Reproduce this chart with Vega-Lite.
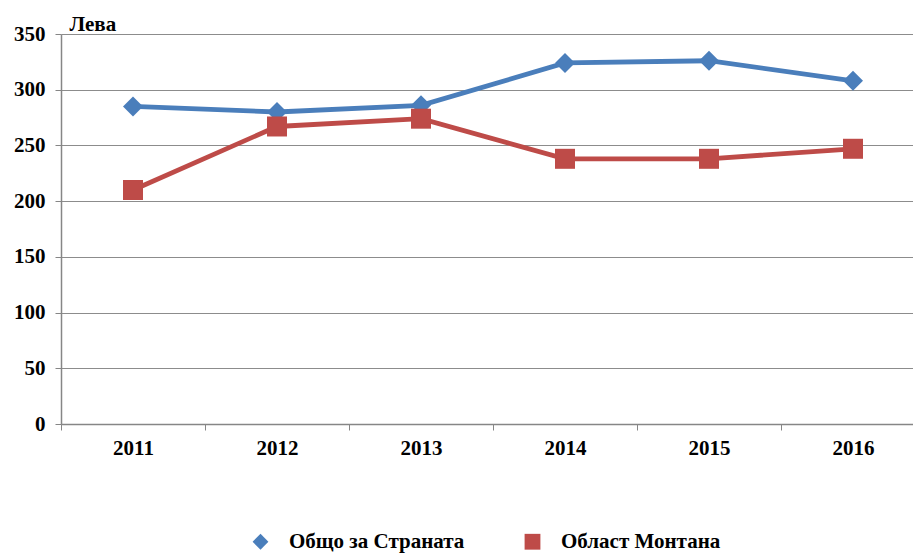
{
  "$schema": "https://vega.github.io/schema/vega-lite/v6.json",
  "width": 852,
  "height": 390,
  "autosize": {"type": "none"},
  "padding": {"left": 61, "top": 34, "right": 0, "bottom": 130},
  "background": "white",
  "config": {"view": {"stroke": null}, "font": "Liberation Serif"},
  "data": {
    "values": [
      {"year": "2011", "series": "Общо за Страната", "value": 285},
      {"year": "2012", "series": "Общо за Страната", "value": 280},
      {"year": "2013", "series": "Общо за Страната", "value": 286},
      {"year": "2014", "series": "Общо за Страната", "value": 324},
      {"year": "2015", "series": "Общо за Страната", "value": 326},
      {"year": "2016", "series": "Общо за Страната", "value": 308},
      {"year": "2011", "series": "Област Монтана", "value": 210},
      {"year": "2012", "series": "Област Монтана", "value": 267},
      {"year": "2013", "series": "Област Монтана", "value": 274},
      {"year": "2014", "series": "Област Монтана", "value": 238},
      {"year": "2015", "series": "Област Монтана", "value": 238},
      {"year": "2016", "series": "Област Монтана", "value": 247}
    ]
  },
  "encoding": {
    "x": {
      "field": "year",
      "type": "ordinal",
      "bandPosition": 0.5,
      "scale": {"type": "band", "range": [0, 864], "paddingInner": 0, "paddingOuter": 0},
      "axis": {
        "title": null,
        "labelAngle": 0,
        "tickBand": "extent",
        "grid": false,
        "domainColor": "#868686",
        "domainWidth": 1.5,
        "tickColor": "#868686",
        "tickSize": 6,
        "labelFont": "Liberation Serif",
        "labelFontSize": 21,
        "labelFontWeight": "bold",
        "labelColor": "black",
        "labelPadding": 7
      }
    },
    "y": {
      "field": "value",
      "type": "quantitative",
      "scale": {"domain": [0, 350], "nice": false},
      "axis": {
        "values": [0, 50, 100, 150, 200, 250, 300, 350],
        "grid": true,
        "gridColor": "#8c8c8c",
        "gridWidth": 1,
        "domainColor": "#868686",
        "domainWidth": 1.5,
        "tickColor": "#868686",
        "tickSize": 6,
        "labelFont": "Liberation Serif",
        "labelFontSize": 21,
        "labelFontWeight": "bold",
        "labelColor": "black",
        "labelPadding": 10,
        "title": "Лева",
        "titleAngle": 0,
        "titleAlign": "left",
        "titleBaseline": "alphabetic",
        "titleX": 8,
        "titleY": -4,
        "titleFont": "Liberation Serif",
        "titleFontSize": 21,
        "titleFontWeight": "bold",
        "titleColor": "black"
      }
    },
    "color": {
      "field": "series",
      "type": "nominal",
      "scale": {"domain": ["Общо за Страната", "Област Монтана"], "range": ["#4a7ebb", "#be4b48"]},
      "legend": {
        "orient": "none",
        "legendX": 189,
        "legendY": 497,
        "direction": "horizontal",
        "title": null,
        "symbolSize": 250,
        "symbolStrokeWidth": 0,
        "labelFont": "Liberation Serif",
        "labelFontSize": 21,
        "labelFontWeight": "bold",
        "labelColor": "black",
        "labelOffset": 18,
        "columnPadding": 57,
        "labelLimit": 300,
        "symbolOpacity": 1
      }
    }
  },
  "layer": [
    {"mark": {"type": "line", "strokeWidth": 4.8}},
    {
      "mark": {"type": "point", "filled": true, "opacity": 1},
      "encoding": {
        "shape": {
          "field": "series",
          "type": "nominal",
          "scale": {"domain": ["Общо за Страната", "Област Монтана"], "range": ["diamond", "square"]},
          "legend": null
        },
        "size": {"value": 400}
      }
    }
  ]
}
